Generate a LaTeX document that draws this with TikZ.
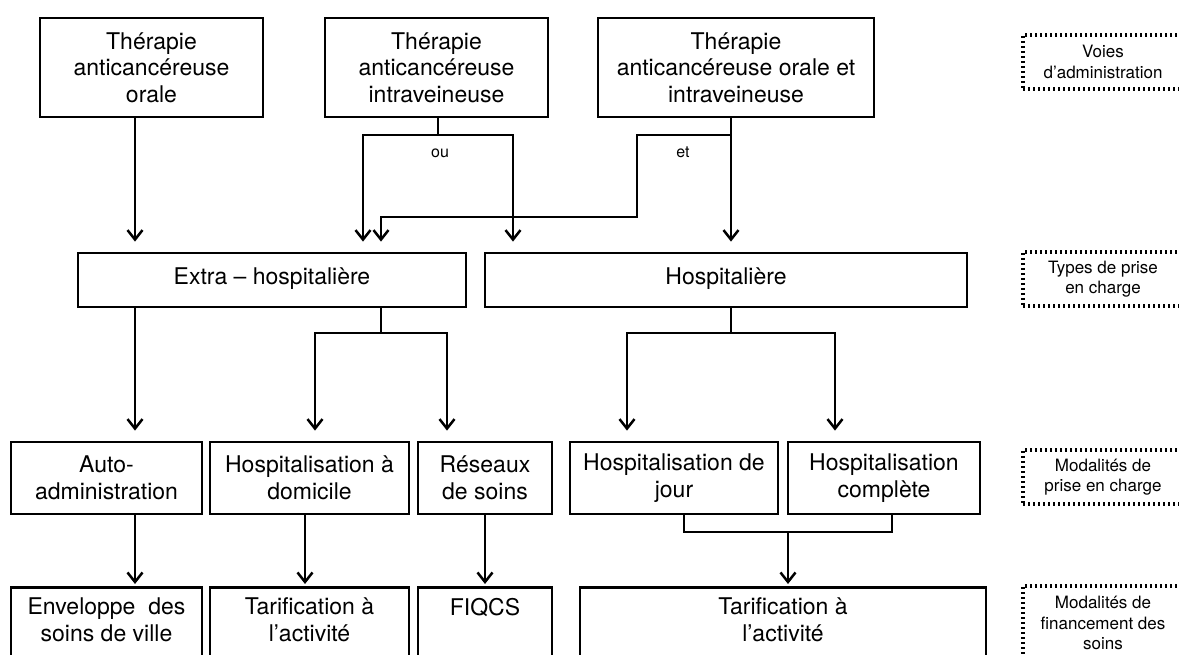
\documentclass[tikz,border=0pt]{standalone}
\usepackage{fontspec}
\setmainfont{TeX Gyre Heros}
\usetikzlibrary{arrows.meta}

\begin{document}
\begin{tikzpicture}[x=1pt,y=-1pt,
  box/.style={draw, line width=2.8pt, inner sep=0pt, align=center,
    font=\fontsize{23}{26.5}\selectfont},
  boxtext/.style={align=center, inner sep=0pt, font=\fontsize{23}{26.5}\selectfont},
  legendbox/.style={draw, line width=3.4pt, dash pattern=on 2.4pt off 2.6pt,
    inner sep=0pt, align=center, font=\fontsize{17}{20.5}\selectfont},
  tag/.style={inner sep=0pt, font=\fontsize{16}{19}\selectfont},
  conn/.style={line width=2.5pt},
  arr/.style={conn, -{Straight Barb[length=9.5pt,width=15pt,line width=2.5pt]}},
]
\useasboundingbox (0,0) rectangle (1179,655);
\fill[white] (0,0) rectangle (1179,655);
\clip (0,0) rectangle (1179,655);

% column positions of the connectors
\coordinate (xA)   at (135,0);
\coordinate (xOu)  at (438,0);
\coordinate (xOuL) at (363,0);
\coordinate (xOuR) at (513,0);
\coordinate (xEtA) at (381,0);
\coordinate (xEt)  at (731,0);
\coordinate (xExL) at (315,0);
\coordinate (xExR) at (447,0);
\coordinate (xHoL) at (627,0);
\coordinate (xHoR) at (835,0);
\coordinate (xHad) at (305,0);
\coordinate (xJl)  at (684,0);
\coordinate (xJr)  at (892,0);
\coordinate (xJm)  at (788,0);

% routes of administration
\node[box, minimum width=223pt, minimum height=99pt] (b1) at (151.5,67.5)
  {Thérapie\\anticancéreuse\\orale};
\node[box, minimum width=223pt, minimum height=99pt] (b2) at (436.5,67.5)
  {Thérapie\\anticancéreuse\\intraveineuse};
\node[box, minimum width=276pt, minimum height=99pt] (b3) at (736,67.5)
  {Thérapie\\anticancéreuse orale et\\intraveineuse};

% types of care
\node[box, minimum width=388pt, minimum height=54pt] (extra) at (272,280)
  {\raisebox{7pt}{Extra – hospitalière}};
\node[box, minimum width=482pt, minimum height=54pt] (hosp) at (726,280)
  {\raisebox{7pt}{Hospitalière}};

% care modalities
\node[box, minimum width=191pt, minimum height=72pt] (auto) at (106.5,478)
  {Auto-\\administration};
\node[box, minimum width=199pt, minimum height=72pt] (had) at (309.5,478)
  {Hospitalisation à\\domicile};
\node[box, minimum width=134pt, minimum height=72pt] (res) at (485,478)
  {Réseaux\\de soins};
\node[box, minimum width=208pt, minimum height=72pt] (hj) at (674,478)
  {Hospitalisation de\\jour};
\node[box, minimum width=192pt, minimum height=72pt] (hc) at (884,478)
  {Hospitalisation\\complète};

% funding modalities (boxes run past the lower edge)
\node[box, minimum width=191pt, minimum height=120pt, anchor=north] (env) at (106.5,586) {};
\node[box, minimum width=199pt, minimum height=120pt, anchor=north] (tar) at (309.5,586) {};
\node[box, minimum width=134pt, minimum height=120pt, anchor=north] (fiq) at (485,586) {};
\node[box, minimum width=406pt, minimum height=120pt, anchor=north] (tarh) at (783,586) {};
\node[boxtext] (env-t) at (106.5,620) {Enveloppe~~des\\soins de ville};
\node[boxtext] (tar-t) at (309.5,620) {Tarification à\\l’activité};
\node[boxtext, anchor=base] (fiq-t) at (485,615) {FIQCS};
\node[boxtext] (tarh-t) at (783,620) {Tarification à\\l’activité};

% level legends on the right
\node[legendbox, minimum width=160pt, minimum height=54pt] (l1) at (1103,62)
  {Voies\\d’administration};
\node[legendbox, minimum width=160pt, minimum height=54pt] (l2) at (1103,279)
  {Types de prise\\en charge};
\node[legendbox, minimum width=160pt, minimum height=54pt] (l3) at (1103,477)
  {Modalités de\\prise en charge};
\node[legendbox, minimum width=160pt, minimum height=74pt] (l4) at (1103,623)
  {Modalités de\\financement des\\soins};

% junction points
\coordinate (ouJ) at (438,135);
\coordinate (etJ) at (731,135);
\coordinate (etC) at (637,217);
\coordinate (exJ) at (381,333);
\coordinate (hoJ) at (731,333);
\coordinate (jJ)  at (788,532);

% connectors: routes -> types of care
\draw[arr, shorten >=10pt] (b1.south -| xA) -- (extra.north -| xA);
\draw[conn] (b2.south -| xOu) -- (ouJ);
\draw[arr, shorten >=10pt] (ouJ) -| (extra.north -| xOuL);
\draw[arr, shorten >=10pt] (ouJ) -| (hosp.north -| xOuR);
\draw[arr, shorten >=10pt] (b3.south -| xEt) -- (hosp.north -| xEt);
\draw[arr, shorten >=10pt] (etJ) -| (etC) -| (extra.north -| xEtA);
\node[tag] (ou) at (440,153) {ou};
\node[tag] (et) at (683,152) {et};

% connectors: types of care -> care modalities
\draw[arr, shorten >=10pt] (extra.south -| xA) -- (auto.north -| xA);
\draw[conn] (extra.south -| xEtA) -- (exJ);
\draw[arr, shorten >=10pt] (exJ) -| (had.north -| xExL);
\draw[arr, shorten >=10pt] (exJ) -| (res.north -| xExR);
\draw[conn] (hosp.south -| xEt) -- (hoJ);
\draw[arr, shorten >=10pt] (hoJ) -| (hj.north -| xHoL);
\draw[arr, shorten >=10pt] (hoJ) -| (hc.north -| xHoR);

% connectors: care modalities -> funding
\draw[arr, shorten >=2pt] (auto.south -| xA) -- (env.north -| xA);
\draw[arr, shorten >=2pt] (had.south -| xHad) -- (tar.north -| xHad);
\draw[arr, shorten >=2pt] (res.south) -- (fiq.north);
\draw[conn] (hj.south -| xJl) |- (jJ) -| (hc.south -| xJr);
\draw[arr, shorten >=2pt] (jJ) -- (tarh.north -| xJm);
\end{tikzpicture}
\end{document}
